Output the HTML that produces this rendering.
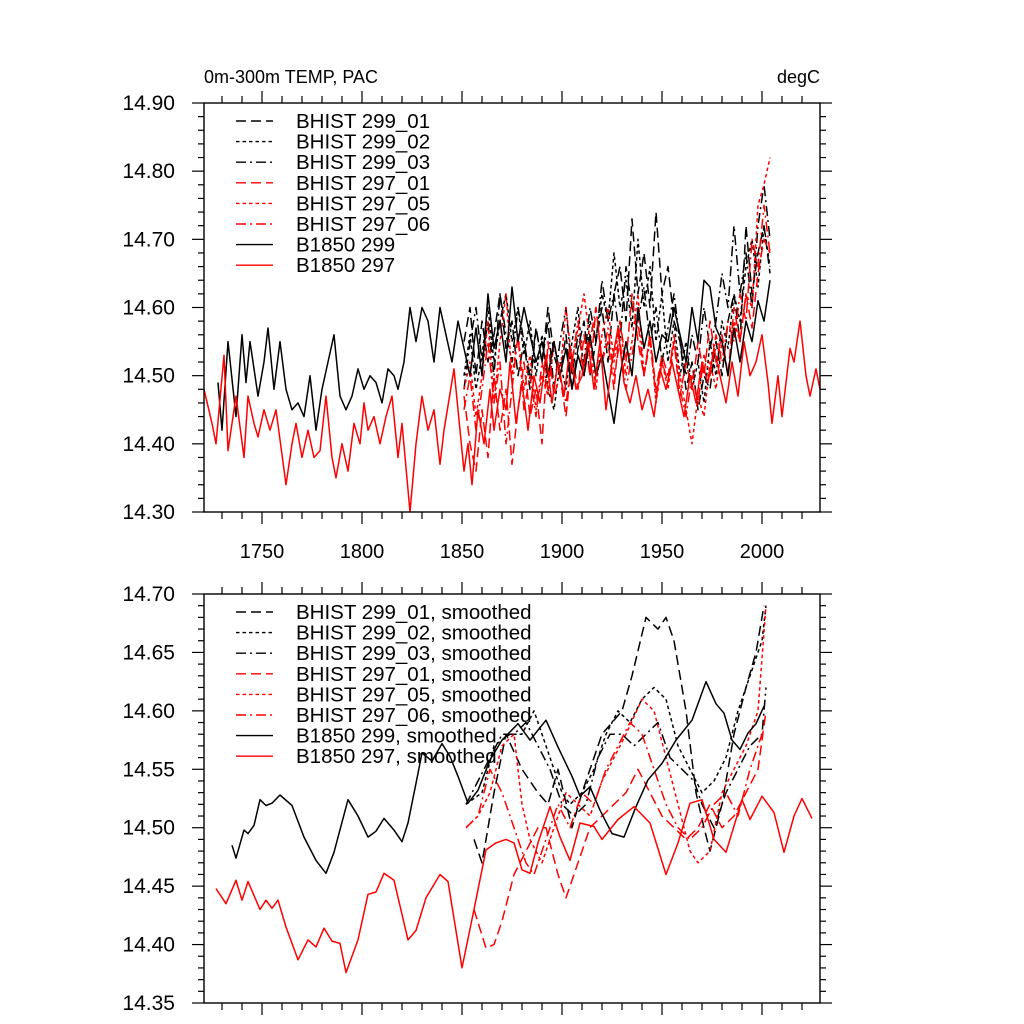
<!DOCTYPE html>
<html><head><meta charset="utf-8"><style>
html,body{margin:0;padding:0;background:#fff}
svg{display:block;font-family:"Liberation Sans",sans-serif}
</style></head><body>
<svg id="chart" width="1024" height="1024" viewBox="0 0 1024 1024" xmlns="http://www.w3.org/2000/svg">
<rect width="1024" height="1024" fill="#fff"/>
<g id="top"></g>
<g id="bot"></g>
</svg>
<script>
// ---------- DATA: top panel (annual) ----------
const b297Years=[1721,1725,1727,1731,1733,1737,1741,1743,1746,1748,1751,1754,1757,1762,1765,1767,1770,1773,1776,1779,1782,1785,1787,1790,1793,1796,1799,1801,1803,1806,1809,1812,1815,1818,1820,1824,1827,1830,1833,1836,1839,1841,1846,1848,1851,1853,1855,1858,1861,1864,1866,1869,1872,1874,1877,1880,1883,1886,1889,1892,1895,1898,1901,1904,1907,1910,1913,1916,1919,1922,1925,1928,1931,1934,1937,1940,1943,1946,1949,1952,1955,1958,1961,1964,1967,1970,1973,1976,1979,1982,1985,1988,1991,1994,1997,2000,2003,2005,2008,2010,2014,2016,2019,2022,2024,2027,2029];
const b297Vals=[14.48,14.43,14.40,14.53,14.39,14.47,14.38,14.47,14.43,14.41,14.45,14.42,14.45,14.34,14.40,14.43,14.38,14.42,14.38,14.39,14.47,14.38,14.35,14.40,14.36,14.43,14.40,14.46,14.42,14.44,14.40,14.44,14.47,14.38,14.43,14.30,14.40,14.47,14.42,14.45,14.37,14.42,14.51,14.45,14.36,14.40,14.34,14.45,14.40,14.48,14.42,14.48,14.45,14.52,14.43,14.49,14.42,14.50,14.46,14.53,14.46,14.52,14.47,14.54,14.48,14.50,14.55,14.48,14.55,14.45,14.52,14.57,14.49,14.46,14.50,14.45,14.48,14.44,14.51,14.48,14.52,14.48,14.44,14.50,14.46,14.52,14.49,14.54,14.50,14.46,14.52,14.47,14.55,14.50,14.52,14.56,14.49,14.43,14.50,14.44,14.54,14.52,14.58,14.50,14.47,14.51,14.48];
const b299Years=[1728,1730,1733,1737,1740,1742,1744,1748,1751,1753,1756,1759,1762,1765,1768,1771,1774,1777,1780,1783,1786,1789,1792,1795,1798,1801,1804,1807,1810,1813,1816,1818,1821,1824,1827,1830,1833,1836,1839,1842,1845,1848,1851,1854,1857,1860,1863,1866,1869,1872,1875,1878,1881,1884,1887,1890,1893,1896,1899,1902,1905,1908,1911,1914,1917,1920,1923,1926,1929,1932,1935,1938,1941,1944,1947,1950,1953,1956,1959,1962,1965,1968,1971,1974,1977,1980,1983,1986,1989,1992,1995,1998,2001,2004];
const b299Vals=[14.49,14.42,14.55,14.44,14.56,14.49,14.55,14.47,14.52,14.57,14.48,14.55,14.48,14.45,14.46,14.44,14.50,14.42,14.48,14.52,14.56,14.47,14.45,14.47,14.51,14.48,14.50,14.49,14.46,14.51,14.50,14.48,14.52,14.60,14.55,14.60,14.58,14.52,14.60,14.56,14.52,14.58,14.54,14.50,14.57,14.50,14.62,14.54,14.58,14.52,14.63,14.55,14.60,14.56,14.52,14.55,14.50,14.55,14.50,14.54,14.48,14.53,14.50,14.56,14.50,14.53,14.48,14.43,14.50,14.55,14.50,14.60,14.54,14.58,14.52,14.56,14.55,14.60,14.56,14.52,14.60,14.55,14.64,14.63,14.57,14.55,14.50,14.57,14.52,14.58,14.55,14.61,14.58,14.64];
const histStart=1851, histStep=3;
const h299_01=[14.55,14.60,14.50,14.58,14.52,14.56,14.62,14.54,14.58,14.50,14.55,14.48,14.57,14.52,14.60,14.53,14.50,14.56,14.48,14.54,14.58,14.50,14.55,14.60,14.52,14.62,14.66,14.58,14.73,14.62,14.68,14.60,14.74,14.62,14.66,14.58,14.55,14.48,14.52,14.45,14.50,14.48,14.55,14.50,14.58,14.62,14.55,14.72,14.62,14.68,14.72,14.65];
const h299_02=[14.50,14.56,14.48,14.53,14.60,14.52,14.58,14.62,14.55,14.60,14.53,14.58,14.50,14.56,14.48,14.45,14.52,14.48,14.55,14.60,14.50,14.58,14.55,14.62,14.58,14.68,14.60,14.64,14.57,14.70,14.60,14.66,14.55,14.62,14.52,14.58,14.50,14.55,14.48,14.52,14.46,14.55,14.50,14.58,14.54,14.62,14.58,14.66,14.70,14.63,14.72,14.66];
const h299_03=[14.48,14.55,14.60,14.52,14.58,14.50,14.62,14.56,14.52,14.60,14.55,14.50,14.57,14.52,14.58,14.48,14.55,14.60,14.50,14.56,14.52,14.60,14.55,14.64,14.58,14.62,14.55,14.66,14.60,14.58,14.63,14.55,14.60,14.52,14.57,14.62,14.55,14.50,14.56,14.52,14.60,14.54,14.58,14.65,14.60,14.72,14.62,14.68,14.60,14.72,14.78,14.70];
const h297_01=[14.47,14.40,14.36,14.45,14.38,14.50,14.42,14.48,14.37,14.45,14.52,14.44,14.48,14.40,14.55,14.47,14.50,14.44,14.53,14.48,14.56,14.50,14.60,14.52,14.55,14.48,14.58,14.52,14.62,14.55,14.50,14.56,14.48,14.53,14.50,14.55,14.47,14.52,14.48,14.55,14.50,14.58,14.52,14.56,14.50,14.60,14.55,14.62,14.57,14.65,14.70,14.68];
const h297_05=[14.48,14.52,14.44,14.50,14.58,14.46,14.55,14.62,14.50,14.56,14.48,14.53,14.45,14.50,14.47,14.55,14.50,14.60,14.52,14.57,14.62,14.55,14.48,14.56,14.60,14.52,14.58,14.50,14.55,14.62,14.50,14.56,14.46,14.52,14.48,14.55,14.50,14.45,14.40,14.47,14.44,14.52,14.48,14.55,14.50,14.58,14.55,14.62,14.60,14.75,14.78,14.82];
const h297_06=[14.45,14.50,14.42,14.48,14.55,14.46,14.52,14.40,14.48,14.56,14.45,14.50,14.44,14.52,14.48,14.55,14.50,14.46,14.52,14.58,14.50,14.55,14.60,14.52,14.57,14.50,14.55,14.48,14.53,14.58,14.50,14.55,14.47,14.52,14.49,14.56,14.48,14.44,14.50,14.46,14.53,14.50,14.56,14.52,14.58,14.55,14.62,14.58,14.70,14.66,14.75,14.68];

// ---------- DATA: bottom panel (smoothed) ----------
const s297Years=[1727,1732,1737,1740,1743,1749,1752,1755,1758,1762,1768,1773,1777,1781,1785,1789,1792,1798,1803,1807,1811,1816,1823,1827,1832,1839,1843,1850,1856,1862,1867,1872,1876,1880,1884,1888,1894,1899,1904,1909,1916,1920,1928,1936,1944,1952,1958,1964,1970,1976,1982,1990,1994,2000,2006,2011,2016,2020,2025];
const s297Vals=[14.448,14.435,14.455,14.438,14.454,14.430,14.438,14.431,14.438,14.415,14.387,14.404,14.398,14.414,14.403,14.401,14.376,14.404,14.443,14.445,14.461,14.455,14.404,14.412,14.440,14.460,14.454,14.380,14.430,14.481,14.487,14.490,14.487,14.464,14.461,14.487,14.518,14.492,14.472,14.504,14.501,14.490,14.507,14.518,14.504,14.460,14.487,14.521,14.524,14.490,14.479,14.524,14.507,14.527,14.513,14.479,14.510,14.525,14.508];
const s299Years=[1735,1737,1741,1743,1746,1749,1752,1755,1759,1765,1771,1777,1782,1786,1793,1798,1803,1807,1811,1816,1820,1823,1827,1830,1835,1840,1844,1848,1853,1858,1864,1870,1878,1884,1892,1898,1905,1909,1914,1919,1925,1931,1937,1943,1950,1957,1965,1972,1977,1981,1985,1989,1993,1997,2001];
const s299Vals=[14.485,14.474,14.498,14.495,14.502,14.524,14.519,14.521,14.528,14.519,14.492,14.472,14.461,14.479,14.524,14.510,14.492,14.497,14.508,14.498,14.488,14.504,14.538,14.564,14.557,14.572,14.561,14.544,14.521,14.532,14.558,14.575,14.589,14.575,14.592,14.569,14.544,14.527,14.535,14.515,14.495,14.492,14.518,14.541,14.555,14.575,14.592,14.625,14.606,14.598,14.575,14.567,14.581,14.589,14.604];
const sh299_01Years=[1856,1860,1866,1872,1880,1888,1893,1898,1905,1910,1920,1930,1935,1942,1948,1952,1956,1962,1967,1971,1974,1980,1986,1992,1997,2001];
const sh299_01=[14.49,14.47,14.53,14.58,14.55,14.53,14.52,14.55,14.50,14.53,14.58,14.60,14.63,14.68,14.67,14.68,14.66,14.60,14.53,14.50,14.48,14.52,14.58,14.62,14.65,14.69];
const sh299_02Years=[1852,1860,1866,1874,1880,1886,1890,1896,1900,1904,1910,1916,1922,1928,1934,1940,1946,1952,1958,1964,1970,1976,1982,1988,1994,2000,2002];
const sh299_02=[14.52,14.53,14.57,14.58,14.58,14.60,14.58,14.55,14.53,14.52,14.53,14.55,14.58,14.60,14.59,14.61,14.62,14.61,14.57,14.55,14.53,14.54,14.56,14.60,14.63,14.66,14.69];
const sh299_03Years=[1852,1858,1864,1870,1876,1882,1888,1894,1900,1906,1912,1918,1924,1930,1936,1942,1948,1954,1960,1966,1970,1976,1982,1988,1994,2000,2002];
const sh299_03=[14.52,14.54,14.56,14.58,14.58,14.59,14.57,14.55,14.52,14.51,14.52,14.56,14.58,14.58,14.57,14.58,14.59,14.56,14.55,14.54,14.52,14.50,14.53,14.55,14.57,14.58,14.62];
const sh297_01Years=[1856,1862,1866,1870,1876,1882,1888,1892,1898,1902,1908,1914,1920,1926,1932,1938,1944,1950,1956,1962,1968,1974,1980,1986,1992,1998,2002];
const sh297_01=[14.43,14.397,14.40,14.42,14.46,14.48,14.50,14.50,14.46,14.44,14.47,14.50,14.51,14.52,14.53,14.55,14.53,14.51,14.50,14.49,14.50,14.52,14.50,14.51,14.53,14.55,14.60];
const sh297_05Years=[1852,1858,1864,1870,1876,1880,1884,1890,1896,1902,1908,1914,1920,1926,1932,1940,1946,1952,1958,1964,1968,1974,1980,1986,1992,1998,2002];
const sh297_05=[14.50,14.51,14.53,14.57,14.58,14.52,14.49,14.47,14.50,14.53,14.52,14.51,14.54,14.56,14.58,14.61,14.60,14.56,14.52,14.48,14.47,14.48,14.53,14.55,14.57,14.60,14.69];
const sh297_06Years=[1852,1858,1864,1870,1876,1882,1886,1892,1898,1904,1910,1916,1922,1928,1934,1940,1946,1952,1958,1964,1970,1976,1982,1988,1994,2000];
const sh297_06=[14.50,14.51,14.55,14.53,14.50,14.47,14.46,14.49,14.52,14.50,14.53,14.52,14.55,14.57,14.59,14.58,14.55,14.52,14.50,14.49,14.50,14.52,14.53,14.51,14.55,14.58];

const xTickYears=[1750,1800,1850,1900,1950,2000];
const topYTicks=["14.30","14.40","14.50","14.60","14.70","14.80","14.90"];
const botYTicks=["14.35","14.40","14.45","14.50","14.55","14.60","14.65","14.70"];
const topLegend=["BHIST 299_01","BHIST 299_02","BHIST 299_03","BHIST 297_01","BHIST 297_05","BHIST 297_06","B1850 299","B1850 297"];
const botLegend=topLegend.map(s=>s+", smoothed");

// ---------- rendering ----------
const NS="http://www.w3.org/2000/svg";
const X0=204,X1=820,Y0min=1721,Y0max=2029;
function xs(yr){return X0+(yr-Y0min)/(Y0max-Y0min)*(X1-X0);}
function mk(tag,attrs,parent){const e=document.createElementNS(NS,tag);for(const k in attrs)e.setAttribute(k,attrs[k]);parent.appendChild(e);return e;}
const styles=[
 {c:"#000",d:"10 5"},{c:"#000",d:"3.5 3"},{c:"#000",d:"10 4 2 4"},
 {c:"#f00",d:"10 5"},{c:"#f00",d:"3.5 3"},{c:"#f00",d:"10 4 2 4"},
 {c:"#000",d:""},{c:"#f00",d:""}];
const names=["bhist-299-01","bhist-299-02","bhist-299-03","bhist-297-01","bhist-297-05","bhist-297-06","b1850-299","b1850-297"];

function panel(g,top,bot,vmin,vmax,yticks,minorStep,showXLabels,series,legend,legTop,title){
  const ys=v=>bot-(v-vmin)/(vmax-vmin)*(bot-top);
  const clip=mk("clipPath",{id:"clip"+top},g);
  mk("rect",{x:X0,y:top,width:X1-X0,height:bot-top},clip);
  const sg=mk("g",{"clip-path":"url(#clip"+top+")"},g);
  series.forEach((s,i)=>{
    const d=s.years.map((yr,j)=>(j?"L":"M")+xs(yr).toFixed(1)+","+ys(s.vals[j]).toFixed(1)).join("");
    const p=mk("path",{d:d,fill:"none",stroke:styles[i].c,"stroke-width":1.5,"stroke-dasharray":styles[i].d||"none","stroke-linejoin":"round"},sg);
    
    
  });
  const fr=mk("rect",{x:X0,y:top,width:X1-X0,height:bot-top,fill:"none",stroke:"#000","stroke-width":1.4},g);
  
  
  for(let yr=1730;yr<=2020;yr+=10){
    const x=xs(yr),major=yr%50===0,L=major?12:7;
    mk("line",{x1:x,x2:x,y1:bot,y2:bot+L,stroke:"#000","stroke-width":1.2},g);
    mk("line",{x1:x,x2:x,y1:top,y2:top-L,stroke:"#000","stroke-width":1.2},g);
  }
  if(showXLabels){xTickYears.forEach(yr=>{
    const t=mk("text",{x:xs(yr),y:bot+46,"text-anchor":"middle","font-size":20},g);t.textContent=yr;
    
    
  });}
  const n=Math.round((vmax-vmin)/minorStep);
  for(let k=0;k<=n;k++){
    const v=vmin+k*minorStep,y=ys(v);
    const major=yticks.some(s=>Math.abs(parseFloat(s)-v)<1e-6),L=major?12:6;
    mk("line",{x1:X0,x2:X0-L,y1:y,y2:y,stroke:"#000","stroke-width":1.2},g);
    mk("line",{x1:X1,x2:X1+L,y1:y,y2:y,stroke:"#000","stroke-width":1.2},g);
  }
  yticks.forEach(s=>{
    const t=mk("text",{x:175,y:ys(parseFloat(s))+7,"text-anchor":"end","font-size":21},g);t.textContent=s;
    
    
  });
  legend.forEach((lab,i)=>{
    const y=legTop+i*20.6;
    const lg=mk("g",{},g);
    
    
    mk("line",{x1:236,x2:273,y1:y,y2:y,stroke:styles[i].c,"stroke-width":1.4,"stroke-dasharray":styles[i].d||"none"},lg);
    const t=mk("text",{x:296,y:y+7,"font-size":20.5},lg);t.textContent=lab;
  });
  if(title){
    const t=mk("text",{x:204,y:83,"font-size":18},g);t.textContent=title[0];
    
    
    const u=mk("text",{x:820,y:83,"font-size":18,"text-anchor":"end"},g);u.textContent=title[1];
    
    
  }
}
function hist(arr){return arr.map((_,i)=>histStart+i*histStep);}
panel(document.getElementById("top"),103,512,14.30,14.90,topYTicks,0.02,true,[
 {years:hist(h299_01),vals:h299_01},{years:hist(h299_02),vals:h299_02},{years:hist(h299_03),vals:h299_03},
 {years:hist(h297_01),vals:h297_01},{years:hist(h297_05),vals:h297_05},{years:hist(h297_06),vals:h297_06},
 {years:b299Years,vals:b299Vals},{years:b297Years,vals:b297Vals}],topLegend,121,["0m-300m TEMP, PAC","degC"]);
panel(document.getElementById("bot"),594,1003,14.35,14.70,botYTicks,0.01,false,[
 {years:sh299_01Years,vals:sh299_01},{years:sh299_02Years,vals:sh299_02},{years:sh299_03Years,vals:sh299_03},
 {years:sh297_01Years,vals:sh297_01},{years:sh297_05Years,vals:sh297_05},{years:sh297_06Years,vals:sh297_06},
 {years:s299Years,vals:s299Vals},{years:s297Years,vals:s297Vals}],botLegend,612,null);
</script>
</body></html>
